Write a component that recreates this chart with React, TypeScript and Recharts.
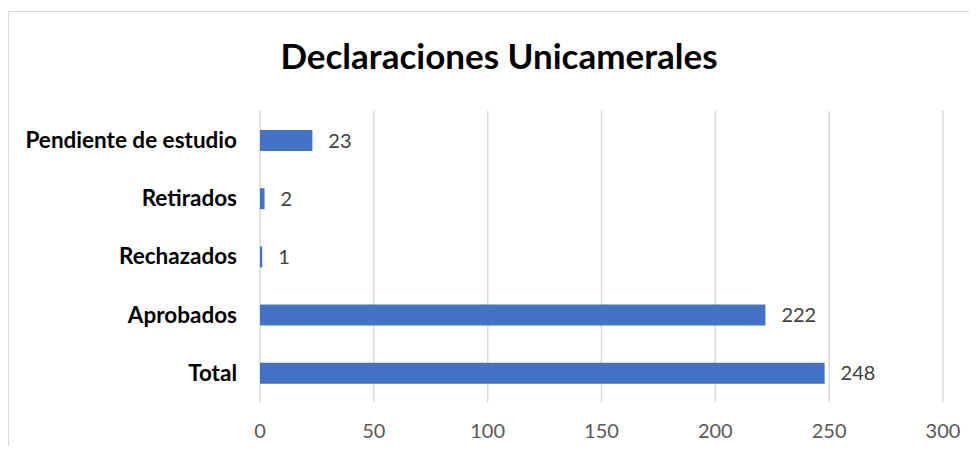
import React from "react";
import { BarChart, Bar, XAxis, YAxis, CartesianGrid, LabelList } from "recharts";

const categories = ["Pendiente de estudio", "Retirados", "Rechazados", "Aprobados", "Total"];
const values = [23, 2, 1, 222, 248];
const xTicks = [0, 50, 100, 150, 200, 250, 300];

const data = categories.map((name, i) => ({ name, value: values[i] }));

const FONT = "Lato, 'Open Sans', sans-serif";

export default function App() {
  return (
    <div style={{ position: "relative", width: 977, height: 454, margin: -8, overflow: "hidden", background: "#fff", fontFamily: FONT }}>
      <div style={{ position: "absolute", left: 8, top: 11, width: 1200, height: 800, border: "1px solid #d9d9d9", boxSizing: "border-box" }} />
      <div style={{ position: "absolute", left: 0, width: 998, top: 33, textAlign: "center", fontSize: 35, fontWeight: 700, color: "#000", lineHeight: "44px" }}>
        Declaraciones Unicamerales
      </div>
      <div style={{ position: "absolute", left: 0, top: 0 }}>
        <BarChart
          width={977}
          height={454}
          data={data}
          layout="vertical"
          margin={{ top: 111, right: 34, bottom: 22, left: 0 }}
        >
          <CartesianGrid horizontal={false} stroke="#d9d9d9" strokeWidth={1.5} />
          <XAxis
            type="number"
            domain={[0, 300]}
            ticks={xTicks}
            axisLine={false}
            tickLine={false}
            tickSize={0}
            tickMargin={22}
            height={30}
            tick={{ fill: "#595959", fontSize: 20, fontFamily: FONT }}
            interval={0}
          />
          <YAxis
            type="category"
            dataKey="name"
            width={260}
            axisLine={false}
            tickLine={false}
            tickSize={0}
            tickMargin={23}
            interval={0}
            tick={{ fill: "#000", fontSize: 22.5, fontWeight: 700, fontFamily: FONT }}
          />
          <Bar dataKey="value" fill="#4472C4" barSize={21} isAnimationActive={false}>
            <LabelList dataKey="value" position="right" offset={16} fill="#404040" fontSize={20} fontFamily={FONT} />
          </Bar>
        </BarChart>
      </div>
    </div>
  );
}
